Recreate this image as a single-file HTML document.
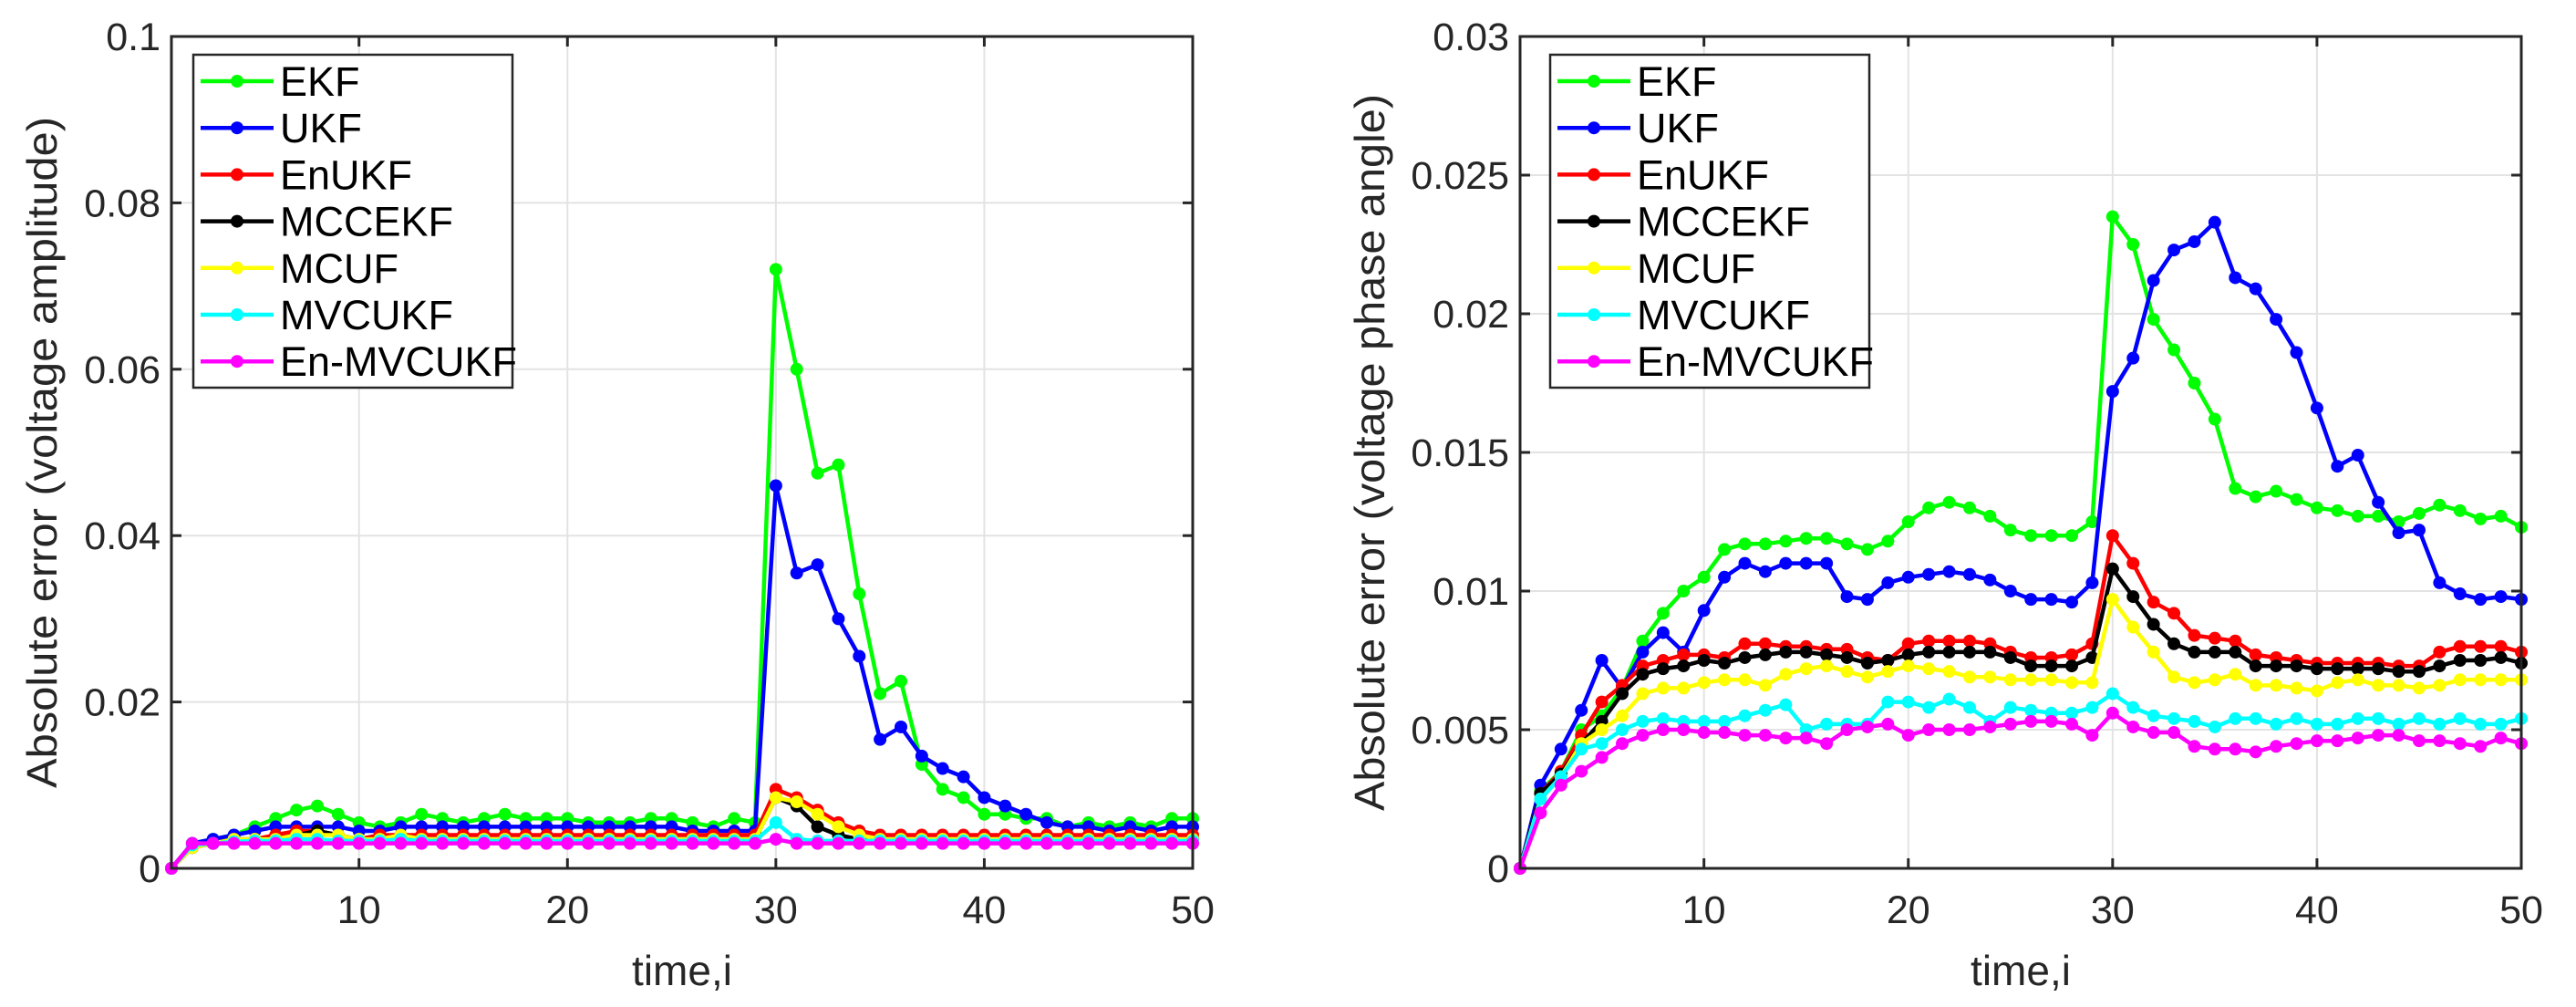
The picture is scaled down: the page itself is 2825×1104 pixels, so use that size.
<!DOCTYPE html>
<html><head><meta charset="utf-8"><style>
html,body{margin:0;padding:0;background:#fff}
svg{display:block;font-family:"Liberation Sans",sans-serif}
</style></head><body>
<svg id="fig" width="2825" height="1104" viewBox="0 0 2825 1104" xmlns="http://www.w3.org/2000/svg"></svg>
<script>
const xs = Array.from({length:50},(_,i)=>i+1);
const seriesNames = ["EKF","UKF","EnUKF","MCCEKF","MCUF","MVCUKF","En-MVCUKF"];
const seriesColors = ["#00ff00","#0000ff","#ff0000","#000000","#ffff00","#00ffff","#ff00ff"];
const ampEKF = [0,0.003,0.0035,0.004,0.005,0.006,0.007,0.0075,0.0065,0.0055,0.005,0.0055,0.0065,0.006,0.0055,0.006,0.0065,0.006,0.006,0.006,0.0055,0.0055,0.0055,0.006,0.006,0.0055,0.005,0.006,0.0055,0.072,0.06,0.0475,0.0485,0.033,0.021,0.0225,0.0125,0.0095,0.0085,0.0065,0.0065,0.006,0.006,0.005,0.0055,0.005,0.0055,0.005,0.006,0.006];
const ampUKF = [0,0.003,0.0035,0.004,0.0045,0.005,0.005,0.005,0.005,0.0045,0.0045,0.005,0.005,0.005,0.005,0.005,0.005,0.005,0.005,0.005,0.005,0.005,0.005,0.005,0.005,0.0045,0.0045,0.0045,0.0045,0.046,0.0355,0.0365,0.03,0.0255,0.0155,0.017,0.0135,0.012,0.011,0.0085,0.0075,0.0065,0.0055,0.005,0.005,0.0045,0.005,0.0045,0.005,0.005];
const ampEnUKF = [0,0.0025,0.003,0.0035,0.0035,0.004,0.0045,0.0045,0.004,0.0035,0.004,0.004,0.004,0.004,0.004,0.004,0.004,0.004,0.004,0.004,0.004,0.004,0.004,0.004,0.004,0.004,0.004,0.004,0.004,0.0095,0.0085,0.007,0.0055,0.0045,0.004,0.004,0.004,0.004,0.004,0.004,0.004,0.004,0.004,0.004,0.004,0.004,0.004,0.004,0.004,0.004];
const ampMCCEKF = [0,0.0025,0.003,0.0035,0.0035,0.0035,0.004,0.0045,0.004,0.0035,0.0035,0.004,0.0035,0.0035,0.0035,0.0035,0.0035,0.0035,0.0035,0.0035,0.0035,0.0035,0.0035,0.0035,0.0035,0.0035,0.0035,0.0035,0.0035,0.0085,0.0075,0.005,0.004,0.0035,0.0035,0.0035,0.0035,0.0035,0.0035,0.0035,0.0035,0.0035,0.0035,0.0035,0.0035,0.0035,0.0035,0.0035,0.0035,0.0035];
const ampMCUF = [0,0.0025,0.003,0.0035,0.0035,0.0035,0.004,0.004,0.004,0.0035,0.0035,0.004,0.0035,0.0035,0.0035,0.0035,0.0035,0.0035,0.0035,0.0035,0.0035,0.0035,0.0035,0.0035,0.0035,0.0035,0.0035,0.0035,0.0035,0.0085,0.008,0.0065,0.005,0.004,0.0035,0.0035,0.0035,0.0035,0.0035,0.0035,0.0035,0.0035,0.0035,0.0035,0.0035,0.0035,0.0035,0.0035,0.0035,0.0035];
const ampMVCUKF = [0,0.0028,0.003,0.0032,0.0033,0.0033,0.0035,0.0035,0.0033,0.0033,0.0033,0.0035,0.0033,0.0033,0.0033,0.0033,0.0033,0.0033,0.0033,0.0033,0.0033,0.0033,0.0033,0.0033,0.0033,0.0033,0.0033,0.0033,0.0033,0.0055,0.0035,0.0033,0.0033,0.0033,0.0033,0.0033,0.0033,0.0033,0.0033,0.0033,0.0033,0.0033,0.0033,0.0033,0.0033,0.0033,0.0033,0.0033,0.0033,0.0033];
const ampEnMVCUKF = [0,0.003,0.003,0.003,0.003,0.003,0.003,0.003,0.003,0.003,0.003,0.003,0.003,0.003,0.003,0.003,0.003,0.003,0.003,0.003,0.003,0.003,0.003,0.003,0.003,0.003,0.003,0.003,0.003,0.0035,0.003,0.003,0.003,0.003,0.003,0.003,0.003,0.003,0.003,0.003,0.003,0.003,0.003,0.003,0.003,0.003,0.003,0.003,0.003,0.003];
const phEKF = [0,0.0028,0.0035,0.005,0.0055,0.0065,0.0082,0.0092,0.01,0.0105,0.0115,0.0117,0.0117,0.0118,0.0119,0.0119,0.0117,0.0115,0.0118,0.0125,0.013,0.0132,0.013,0.0127,0.0122,0.012,0.012,0.012,0.0125,0.0235,0.0225,0.0198,0.0187,0.0175,0.0162,0.0137,0.0134,0.0136,0.0133,0.013,0.0129,0.0127,0.0127,0.0125,0.0128,0.0131,0.0129,0.0126,0.0127,0.0123];
const phUKF = [0,0.003,0.0043,0.0057,0.0075,0.0065,0.0078,0.0085,0.0078,0.0093,0.0105,0.011,0.0107,0.011,0.011,0.011,0.0098,0.0097,0.0103,0.0105,0.0106,0.0107,0.0106,0.0104,0.01,0.0097,0.0097,0.0096,0.0103,0.0172,0.0184,0.0212,0.0223,0.0226,0.0233,0.0213,0.0209,0.0198,0.0186,0.0166,0.0145,0.0149,0.0132,0.0121,0.0122,0.0103,0.0099,0.0097,0.0098,0.0097];
const phEnUKF = [0,0.0027,0.0035,0.0048,0.006,0.0066,0.0073,0.0075,0.0077,0.0077,0.0076,0.0081,0.0081,0.008,0.008,0.0079,0.0079,0.0076,0.0075,0.0081,0.0082,0.0082,0.0082,0.0081,0.0078,0.0076,0.0076,0.0077,0.0081,0.012,0.011,0.0096,0.0092,0.0084,0.0083,0.0082,0.0077,0.0076,0.0075,0.0074,0.0074,0.0074,0.0074,0.0073,0.0073,0.0078,0.008,0.008,0.008,0.0078];
const phMCCEKF = [0,0.0027,0.0034,0.0045,0.0053,0.0063,0.007,0.0072,0.0073,0.0075,0.0074,0.0076,0.0077,0.0078,0.0078,0.0077,0.0076,0.0074,0.0075,0.0077,0.0078,0.0078,0.0078,0.0078,0.0076,0.0073,0.0073,0.0073,0.0076,0.0108,0.0098,0.0088,0.0081,0.0078,0.0078,0.0078,0.0073,0.0073,0.0073,0.0072,0.0072,0.0072,0.0072,0.0071,0.0071,0.0073,0.0075,0.0075,0.0076,0.0074];
const phMCUF = [0,0.0025,0.0033,0.0045,0.005,0.0055,0.0063,0.0065,0.0065,0.0067,0.0068,0.0068,0.0066,0.007,0.0072,0.0073,0.0071,0.0069,0.0071,0.0073,0.0072,0.0071,0.0069,0.0069,0.0068,0.0068,0.0068,0.0067,0.0067,0.0097,0.0087,0.0078,0.0069,0.0067,0.0068,0.007,0.0066,0.0066,0.0065,0.0064,0.0067,0.0068,0.0066,0.0066,0.0065,0.0066,0.0068,0.0068,0.0068,0.0068];
const phMVCUKF = [0,0.0025,0.0033,0.0043,0.0045,0.005,0.0053,0.0054,0.0053,0.0053,0.0053,0.0055,0.0057,0.0059,0.005,0.0052,0.0052,0.0052,0.006,0.006,0.0058,0.0061,0.0058,0.0053,0.0058,0.0057,0.0056,0.0056,0.0058,0.0063,0.0058,0.0055,0.0054,0.0053,0.0051,0.0054,0.0054,0.0052,0.0054,0.0052,0.0052,0.0054,0.0054,0.0052,0.0054,0.0052,0.0054,0.0052,0.0052,0.0054];
const phEnMVCUKF = [0,0.002,0.003,0.0035,0.004,0.0045,0.0048,0.005,0.005,0.0049,0.0049,0.0048,0.0048,0.0047,0.0047,0.0045,0.005,0.0051,0.0052,0.0048,0.005,0.005,0.005,0.0051,0.0052,0.0053,0.0053,0.0052,0.0048,0.0056,0.0051,0.0049,0.0049,0.0044,0.0043,0.0043,0.0042,0.0044,0.0045,0.0046,0.0046,0.0047,0.0048,0.0048,0.0046,0.0046,0.0045,0.0044,0.0047,0.0045];
const xTicks = [10,20,30,40,50];
const ampTicks = [0,0.02,0.04,0.06,0.08,0.1];
const ampTickLabels = ["0","0.02","0.04","0.06","0.08","0.1"];
const phTicks = [0,0.005,0.01,0.015,0.02,0.025,0.03];
const phTickLabels = ["0","0.005","0.01","0.015","0.02","0.025","0.03"];

const NS="http://www.w3.org/2000/svg";
const svg=document.getElementById('fig');
function mk(tag,attrs,parent){const e=document.createElementNS(NS,tag);for(const k in attrs)e.setAttribute(k,attrs[k]);(parent||svg).appendChild(e);return e;}

function drawPanel(pid,L,R,T,B,ymax,yTicks,yLabels,series,ylabel,ylabelX,ylabelLen,legX){
  const g=mk('g',{});
  
  
  const sx=v=>L+(v-1)/49*(R-L);
  const sy=v=>B-v/ymax*(B-T);
  xTicks.forEach(t=>{const l=mk('line',{x1:sx(t),x2:sx(t),y1:T,y2:B,stroke:'#e3e3e3','stroke-width':2},g);
    
    });
  yTicks.forEach(t=>{const l=mk('line',{x1:L,x2:R,y1:sy(t),y2:sy(t),stroke:'#e3e3e3','stroke-width':2},g);
    
    });
  series.forEach((s,i)=>{
    const pts=s.map((v,j)=>sx(xs[j]).toFixed(1)+','+sy(v).toFixed(1)).join(' ');
    const sg=mk('g',{},g);
    
    
    mk('polyline',{points:pts,fill:'none',stroke:seriesColors[i],'stroke-width':4.5,'stroke-linejoin':'round'},sg);
    s.forEach((v,j)=>{const c=mk('circle',{cx:sx(xs[j]),cy:sy(v),r:7,fill:seriesColors[i]},sg);
      
      });
  });
  const box=mk('rect',{x:L,y:T,width:R-L,height:B-T,fill:'none',stroke:'#262626','stroke-width':3},g);
  
  
  xTicks.forEach(t=>{
    mk('line',{x1:sx(t),x2:sx(t),y1:B,y2:B-11,stroke:'#262626','stroke-width':3},g);
    mk('line',{x1:sx(t),x2:sx(t),y1:T,y2:T+11,stroke:'#262626','stroke-width':3},g);
    const tx=mk('text',{x:sx(t),y:1012,'font-size':43,'text-anchor':'middle',fill:'#262626'},g);
    tx.textContent=t;
    
    
  });
  yTicks.forEach((t,k)=>{
    mk('line',{x1:L,x2:L+11,y1:sy(t),y2:sy(t),stroke:'#262626','stroke-width':3},g);
    mk('line',{x1:R,x2:R-11,y1:sy(t),y2:sy(t),stroke:'#262626','stroke-width':3},g);
    const tx=mk('text',{x:L-12,y:sy(t)+15,'font-size':43,'text-anchor':'end',fill:'#262626'},g);
    tx.textContent=yLabels[k];
    
    
  });
  const xl=mk('text',{x:(L+R)/2,y:1080,'font-size':46,'text-anchor':'middle',fill:'#262626'},g);
  xl.textContent='time,i';
  
  
  const yl=mk('text',{x:0,y:0,'font-size':46,'text-anchor':'middle',fill:'#262626',textLength:ylabelLen,lengthAdjust:'spacingAndGlyphs',transform:`translate(${ylabelX},${(T+B)/2}) rotate(-90)`},g);
  yl.textContent=ylabel;
  
  
  const lg=mk('g',{},g);
  
  
  mk('rect',{x:legX,y:60,width:350,height:365,fill:'#fff',stroke:'#262626','stroke-width':2.5},lg);
  seriesNames.forEach((n,i)=>{
    const yy=89+i*51.2;
    const e=mk('g',{},lg);
    
    
    mk('line',{x1:legX+8,x2:legX+88,y1:yy,y2:yy,stroke:seriesColors[i],'stroke-width':4.5},e);
    mk('circle',{cx:legX+48,cy:yy,r:7,fill:seriesColors[i]},e);
    const t=mk('text',{x:legX+95,y:yy+16,'font-size':45,fill:'#000'},e);
    t.textContent=n;
  });
}
drawPanel('amplitude',188,1308,40,952,0.1,ampTicks,ampTickLabels,
  [ampEKF,ampUKF,ampEnUKF,ampMCCEKF,ampMCUF,ampMVCUKF,ampEnMVCUKF],
  'Absolute error (voltage amplitude)',62,736,212);
drawPanel('phase',1667,2765,40,952,0.03,phTicks,phTickLabels,
  [phEKF,phUKF,phEnUKF,phMCCEKF,phMCUF,phMVCUKF,phEnMVCUKF],
  'Absolute error (voltage phase angle)',1518,786,1700);
</script>
</body></html>
